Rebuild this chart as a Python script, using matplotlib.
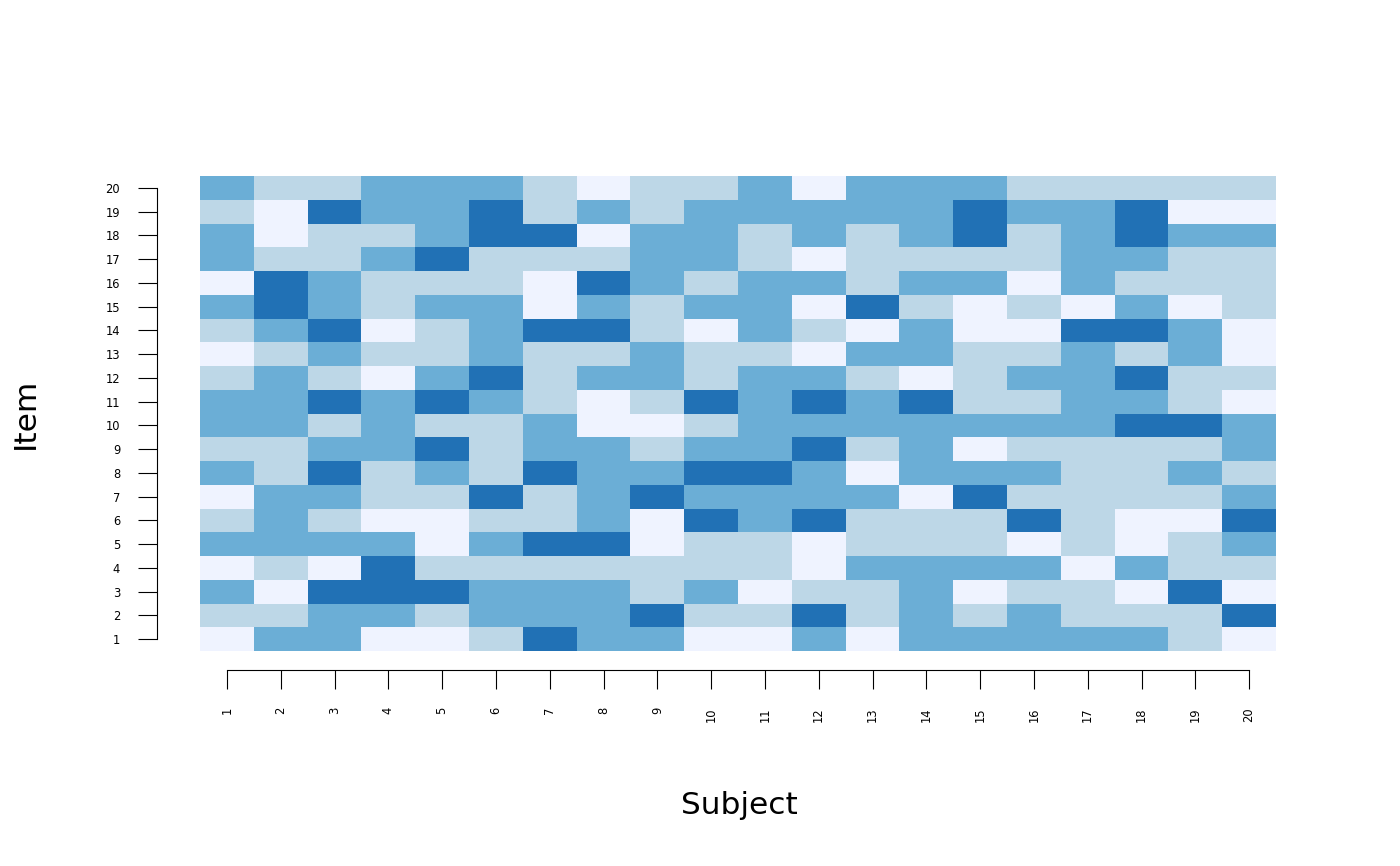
import matplotlib
matplotlib.use("Agg")
import matplotlib.pyplot as plt
import numpy as np
from matplotlib.colors import ListedColormap

subjects = [str(i) for i in range(1, 21)]
items = [str(i) for i in range(1, 21)]

# levels per item row (item 1 .. item 20), columns = subjects 1..20
item01 = [0, 2, 2, 0, 0, 1, 3, 2, 2, 0, 0, 2, 0, 2, 2, 2, 2, 2, 1, 0]
item02 = [1, 1, 2, 2, 1, 2, 2, 2, 3, 1, 1, 3, 1, 2, 1, 2, 1, 1, 1, 3]
item03 = [2, 0, 3, 3, 3, 2, 2, 2, 1, 2, 0, 1, 1, 2, 0, 1, 1, 0, 3, 0]
item04 = [0, 1, 0, 3, 1, 1, 1, 1, 1, 1, 1, 0, 2, 2, 2, 2, 0, 2, 1, 1]
item05 = [2, 2, 2, 2, 0, 2, 3, 3, 0, 1, 1, 0, 1, 1, 1, 0, 1, 0, 1, 2]
item06 = [1, 2, 1, 0, 0, 1, 1, 2, 0, 3, 2, 3, 1, 1, 1, 3, 1, 0, 0, 3]
item07 = [0, 2, 2, 1, 1, 3, 1, 2, 3, 2, 2, 2, 2, 0, 3, 1, 1, 1, 1, 2]
item08 = [2, 1, 3, 1, 2, 1, 3, 2, 2, 3, 3, 2, 0, 2, 2, 2, 1, 1, 2, 1]
item09 = [1, 1, 2, 2, 3, 1, 2, 2, 1, 2, 2, 3, 1, 2, 0, 1, 1, 1, 1, 2]
item10 = [2, 2, 1, 2, 1, 1, 2, 0, 0, 1, 2, 2, 2, 2, 2, 2, 2, 3, 3, 2]
item11 = [2, 2, 3, 2, 3, 2, 1, 0, 1, 3, 2, 3, 2, 3, 1, 1, 2, 2, 1, 0]
item12 = [1, 2, 1, 0, 2, 3, 1, 2, 2, 1, 2, 2, 1, 0, 1, 2, 2, 3, 1, 1]
item13 = [0, 1, 2, 1, 1, 2, 1, 1, 2, 1, 1, 0, 2, 2, 1, 1, 2, 1, 2, 0]
item14 = [1, 2, 3, 0, 1, 2, 3, 3, 1, 0, 2, 1, 0, 2, 0, 0, 3, 3, 2, 0]
item15 = [2, 3, 2, 1, 2, 2, 0, 2, 1, 2, 2, 0, 3, 1, 0, 1, 0, 2, 0, 1]
item16 = [0, 3, 2, 1, 1, 1, 0, 3, 2, 1, 2, 2, 1, 2, 2, 0, 2, 1, 1, 1]
item17 = [2, 1, 1, 2, 3, 1, 1, 1, 2, 2, 1, 0, 1, 1, 1, 1, 2, 2, 1, 1]
item18 = [2, 0, 1, 1, 2, 3, 3, 0, 2, 2, 1, 2, 1, 2, 3, 1, 2, 3, 2, 2]
item19 = [1, 0, 3, 2, 2, 3, 1, 2, 1, 2, 2, 2, 2, 2, 3, 2, 2, 3, 0, 0]
item20 = [2, 1, 1, 2, 2, 2, 1, 0, 1, 1, 2, 0, 2, 2, 2, 1, 1, 1, 1, 1]

level_colors = ["#EFF3FF", "#BDD7E7", "#6BAED6", "#2171B5"]

Z = np.array([item01, item02, item03, item04, item05, item06, item07, item08,
              item09, item10, item11, item12, item13, item14, item15, item16,
              item17, item18, item19, item20])

fig = plt.figure(figsize=(14, 8.66), dpi=100)
ax = fig.add_axes([200/1400, 1-651/866, 1076/1400, 475/866])

xe = np.arange(0.5, len(subjects) + 1, 1.0)
ye = np.arange(0.5, len(items) + 1, 1.0)
cmap = ListedColormap(level_colors)
ax.pcolormesh(xe, ye, Z, cmap=cmap, vmin=-0.5, vmax=3.5, shading="flat")
ax.set_xlim(0.5, 20.5)
ax.set_ylim(0.5, 20.5)

for s in ["top", "right"]:
    ax.spines[s].set_visible(False)
ax.spines["left"].set_position(("outward", 43 * 0.72))
ax.spines["bottom"].set_position(("outward", 19 * 0.72))
ax.spines["left"].set_bounds(1, 20)
ax.spines["bottom"].set_bounds(1, 20)
for s in ["left", "bottom"]:
    ax.spines[s].set_linewidth(0.8)

ax.set_xticks(np.arange(1, 21))
ax.set_xticklabels(subjects, rotation=90, fontsize=8.3, va="top")
ax.set_yticks(np.arange(1, 21))
ax.set_yticklabels(items, fontsize=8.3)
ax.tick_params(axis="both", length=19 * 0.72, width=0.8, pad=18 * 0.72)

fig.text(25/1400, 1-413/866, "Item", rotation=90, ha="center", va="center", fontsize=22.5)
fig.text(739/1400, 1-805/866, "Subject", ha="center", va="center", fontsize=22.5)

fig.savefig("out.png", dpi=100)
